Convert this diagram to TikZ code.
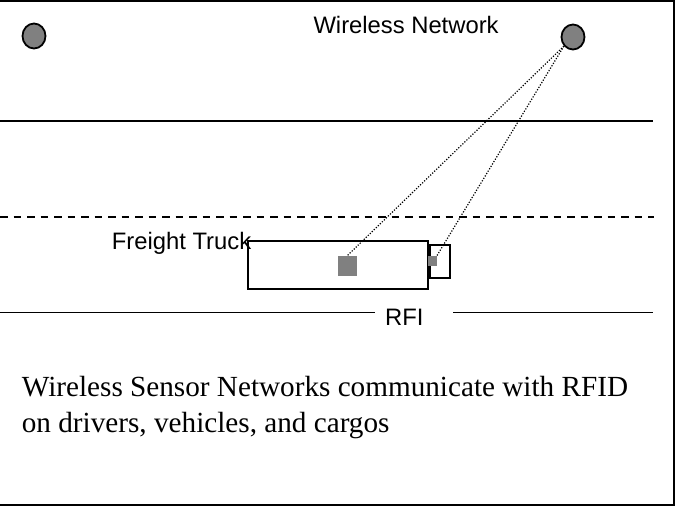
\documentclass[tikz,border=0pt]{standalone}
\usepackage{fontspec}
\setmainfont{Liberation Serif}
\setsansfont{Liberation Sans}
\usetikzlibrary{shapes.geometric}
\definecolor{midgray}{RGB}{128,128,128}
\begin{document}
\begin{tikzpicture}[x=1pt,y=-1pt,
  road/.style={line width=1.8pt},
  frame/.style={line width=2pt},
  sensor/.style={ellipse, draw, line width=1.8pt, fill=midgray, minimum width=23pt, minimum height=25pt, inner sep=0},
  tag/.style={fill=midgray, inner sep=0},
  link/.style={line width=1.2pt, dash pattern=on 1.2pt off 1.6pt},
  box/.style={draw, line width=1.8pt, inner sep=0},
  sanslabel/.style={font=\sffamily\fontsize{23.8}{28}\selectfont, inner sep=0, anchor=base west},
  caption/.style={font=\rmfamily\fontsize{29.2}{36}\selectfont, inner sep=0, anchor=base west, align=left}
]
\useasboundingbox (0,0) rectangle (675,506);
\fill[white] (0,0) rectangle (675,506);
% frame
\draw[frame] (0,1) -- (674,1) -- (674,504.5) -- (0,504.5);
% roads
\draw[road] (0,120.7) -- (653,120.7);
\draw[road, dash pattern=on 7.5pt off 6pt] (0,216.7) -- (654,216.7);
\node[sanslabel] (rfi) at (385,325) {RFI};
\coordinate (r0) at (0,312.5);
\coordinate (r3) at (653,312.5);
\draw[road] (r0) -- (375,312.5);
\draw[road] (453,312.5) -- (r3);
% sensors
\node[sensor] (s1) at (34,36) {};
\node[sensor] (s2) at (573,37) {};
\node[sanslabel] (wn) at (313.3,33.3) {Wireless Network};
% truck
\node[box, minimum width=180pt, minimum height=48.6pt] (trailer) at (338.3,265) {};
\node[box, minimum width=20pt, minimum height=33.3pt, anchor=west] (cab) at (trailer.east |- 0,261.6) {};
\node[tag, minimum width=19pt, minimum height=19.7pt] (tag1) at (347.2,265.8) {};
\node[tag, minimum width=9pt, minimum height=9.7pt] (tag2) at (432.2,260.8) {};
\node[sanslabel] (ft) at (111.7,249) {Freight Truck};
% links
\draw[link] (s2.-135) -- (tag1.north);
\draw[link] (s2.-135) -- (tag2.north east);
% caption
\node[caption] (cap) at (21.7,432) {Wireless Sensor Networks communicate with RFID\\on drivers, vehicles, and cargos};
\end{tikzpicture}
\end{document}
